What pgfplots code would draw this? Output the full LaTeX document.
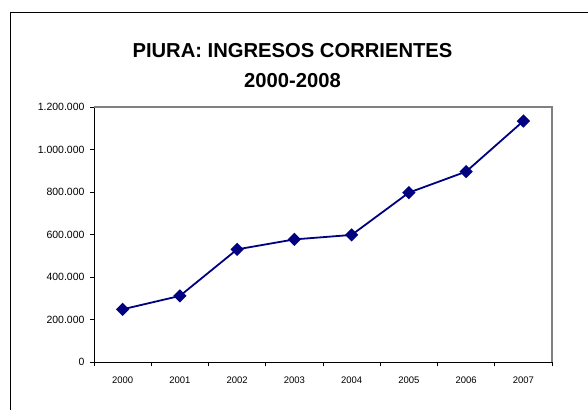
\documentclass[border=0pt]{standalone}
\usepackage{fontspec}
\setmainfont{Liberation Sans}
\usepackage{pgfplots}
\pgfplotsset{compat=1.18}
\definecolor{navyline}{RGB}{0,0,128}
\begin{document}
\begin{tikzpicture}[x=1bp,y=1bp]
\useasboundingbox (0,0) rectangle (588,410);
\draw[line width=1bp] (10,0) -- (10,397) -- (588,397);
\node[anchor=base,inner sep=0pt,font=\fontsize{20.2bp}{22bp}\selectfont\bfseries] at (292.5,352.5) {PIURA: INGRESOS CORRIENTES};
\node[anchor=base,inner sep=0pt,font=\fontsize{20.2bp}{22bp}\selectfont\bfseries] at (292.5,323) {2000-2008};
\begin{axis}[
  at={(94bp,48bp)}, anchor=south west,
  scale only axis, width=458bp, height=255bp,
  xmin=-0.5, xmax=7.5, ymin=0, ymax=1200000,
  axis lines=left,
  axis line style={-, line width=1bp, black},
  tick align=outside,
  major tick length=4bp,
  minor tick length=4bp,
  tick style={black, line width=0.8bp},
  xtick={0,...,7},
  xticklabels={2000,2001,2002,2003,2004,2005,2006,2007},
  major x tick style={draw=none},
  minor xtick={-0.5,0.5,...,7.5},
  ytick={0,200000,400000,600000,800000,1000000,1200000},
  scaled y ticks=false,
  /pgf/number format/fixed,
  /pgf/number format/1000 sep={.},
  /pgf/number format/assume math mode=true,
  yticklabel style={font=\fontsize{10.5bp}{12bp}\selectfont, xshift=-2bp},
  xticklabel style={font=\fontsize{9.5bp}{11bp}\selectfont, yshift=-7bp},
  clip=false,
  after end axis/.code={\draw[gray, line width=1.2bp] (rel axis cs:0,1) -- (rel axis cs:1,1) -- (rel axis cs:1,0);},
]
\addplot[navyline, line width=1.8bp, mark=square*, mark size=3.8bp, mark options={solid, fill=navyline, rotate=45}]
  coordinates {(0,248000) (1,311000) (2,530000) (3,577000) (4,598000) (5,797000) (6,896000) (7,1134000)};
\end{axis}
\end{tikzpicture}
\end{document}
